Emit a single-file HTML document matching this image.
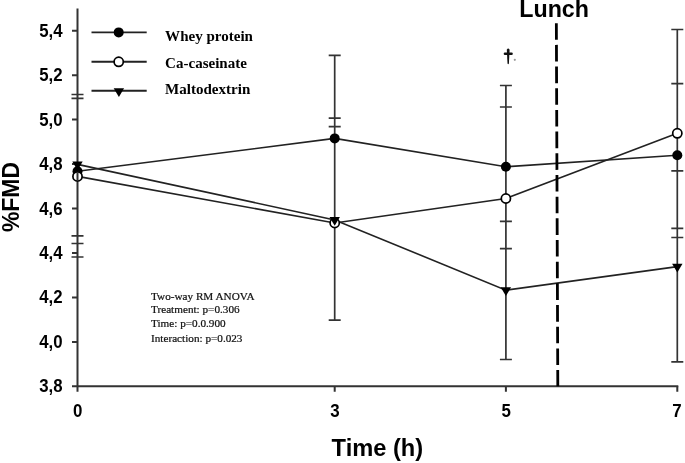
<!DOCTYPE html>
<html><head><meta charset="utf-8">
<style>
html,body{margin:0;padding:0;background:#fff;}
body{width:685px;height:463px;overflow:hidden;}
svg{display:block;will-change:transform;}
.ax{font-family:"Liberation Sans",sans-serif;font-weight:bold;}
.sf{font-family:"Liberation Serif",serif;}
</style></head><body>
<svg width="685" height="463" viewBox="0 0 685 463">
<rect width="685" height="463" fill="#fff"/>
<g stroke="#333" stroke-width="2" fill="none">
<line x1="77.5" y1="8.4" x2="77.5" y2="391.8"/>
<line x1="72" y1="386.3" x2="678.3" y2="386.3"/>
<path d="M72 30.7h5.5M72 75.2h5.5M72 119.6h5.5M72 164h5.5M72 208.5h5.5M72 253h5.5M72 297.4h5.5M72 341.9h5.5"/>
<path d="M334.7 386.3V391.8M505.9 386.3V391.8M677.3 386.3V391.8"/>
</g>
<g stroke="#333" stroke-width="1.7" fill="none"><path d="M334.7 55.4V320.2 M505.9 85.5V359.5 M677.3 29.5V361.8 M71.50 94.5h12M71.50 98.4h12M71.50 235.9h12M71.50 243.5h12M71.50 257h12M328.70 55.4h12M328.70 118.1h12M328.70 126.7h12M328.70 320.2h12M499.90 85.5h12M499.90 107h12M499.90 221.4h12M499.90 248.6h12M499.90 359.5h12M671.30 29.5h12M671.30 83.6h12M671.30 170.8h12M671.30 228.4h12M671.30 237.5h12M671.30 361.8h12"/></g>
<polyline points="77.5,171.2 334.7,138.4 505.9,166.8 677.3,155.3" stroke="#222" stroke-width="1.6" fill="none"/>
<polyline points="77.5,176.4 334.7,223.0 505.9,198.5 677.3,133.3" stroke="#222" stroke-width="1.6" fill="none"/>
<polyline points="77.5,164.4 334.7,219.9 505.9,290.2 677.3,266.6" stroke="#222" stroke-width="1.6" fill="none"/>
<g fill="#000"><circle cx="77.5" cy="171.2" r="5.0"/><circle cx="334.7" cy="138.4" r="5.0"/><circle cx="505.9" cy="166.8" r="5.0"/><circle cx="677.3" cy="155.3" r="5.0"/></g>
<g fill="#fff" stroke="#000" stroke-width="1.7"><circle cx="77.5" cy="176.4" r="4.6"/><circle cx="334.7" cy="223.0" r="4.6"/><circle cx="505.9" cy="198.5" r="4.6"/><circle cx="677.3" cy="133.3" r="4.6"/></g>
<path d="M72.30 161.50h10.4l-5.2 8.7z" fill="#000"/><path d="M329.50 217.00h10.4l-5.2 8.7z" fill="#000"/><path d="M500.70 287.30h10.4l-5.2 8.7z" fill="#000"/><path d="M672.10 263.70h10.4l-5.2 8.7z" fill="#000"/>
<path d="M77.5 172.5V180.5" stroke="#333" stroke-width="2"/>
<line x1="556.35" y1="23.2" x2="557.8" y2="386.3" stroke="#000" stroke-width="2.8" stroke-dasharray="16.6 5.08"/>
<g stroke="#222" stroke-width="1.9" fill="none"><path d="M91.5 32.4H146.7M91.5 61.8H146.7M91.5 90.8H146.7"/></g>
<circle cx="118.7" cy="32.4" r="5" fill="#000"/>
<circle cx="118.7" cy="61.8" r="4.6" fill="#fff" stroke="#000" stroke-width="1.7"/>
<path d="M113.70 88.20h10.4l-5.2 8.7z" fill="#000"/>
<g class="sf" font-weight="bold" font-size="14" fill="#000">
  <text transform="translate(165.1,40.5) scale(1.075,1)">Whey protein</text>
  <text transform="translate(165.1,67.7) scale(1.075,1)">Ca-caseinate</text>
  <text transform="translate(165.1,93.8) scale(1.075,1)">Maltodextrin</text>
</g>
<g class="sf" font-size="10" fill="#111" stroke="#111" stroke-width="0.2">
  <text transform="translate(151,299.9) scale(1.12,1)">Two-way RM ANOVA</text>
  <text transform="translate(151,313) scale(1.12,1)">Treatment: p=0.306</text>
  <text transform="translate(151,326.7) scale(1.12,1)">Time: p=0.0.900</text>
  <text transform="translate(151,341.8) scale(1.12,1)">Interaction: p=0.023</text>
</g>
<path d="M504.9 53.8H511.6" stroke="#111" stroke-width="2.4" stroke-linecap="round"/>
<path d="M506.8 49.8Q508.2 47.4 509.6 49.8L508.9 63.6Q508.2 65 507.5 63.6Z" fill="#111"/>
<circle cx="514.8" cy="59.8" r="1.1" fill="#999"/>
<g class="ax" font-size="17.5" fill="#000" text-anchor="end">
<text transform="translate(62.5,36.7) scale(0.96,1)">5,4</text>
<text transform="translate(62.5,81.2) scale(0.96,1)">5,2</text>
<text transform="translate(62.5,125.6) scale(0.96,1)">5,0</text>
<text transform="translate(62.5,170.0) scale(0.96,1)">4,8</text>
<text transform="translate(62.5,214.5) scale(0.96,1)">4,6</text>
<text transform="translate(62.5,259.0) scale(0.96,1)">4,4</text>
<text transform="translate(62.5,303.4) scale(0.96,1)">4,2</text>
<text transform="translate(62.5,347.9) scale(0.96,1)">4,0</text>
<text transform="translate(62.5,392.3) scale(0.96,1)">3,8</text>
</g>
<g class="ax" font-size="18.4" fill="#000" text-anchor="middle">
<text transform="translate(77.6,416.6) scale(0.92,1)">0</text>
<text transform="translate(334.9,416.6) scale(0.92,1)">3</text>
<text transform="translate(506.1,416.6) scale(0.92,1)">5</text>
<text transform="translate(677,416.6) scale(0.92,1)">7</text>
</g>
<text class="ax" font-size="23" fill="#000" text-anchor="middle" transform="translate(377.4,456.2) scale(1.03,1)">Time (h)</text>
<text class="ax" font-size="23.4" fill="#000" text-anchor="middle" transform="translate(18.6,197.0) rotate(-90) scale(0.98,1)">%FMD</text>
<text class="ax" font-size="24.2" fill="#000" text-anchor="middle" transform="translate(554.1,17.3) scale(0.96,1)">Lunch</text>
</svg>
</body></html>
